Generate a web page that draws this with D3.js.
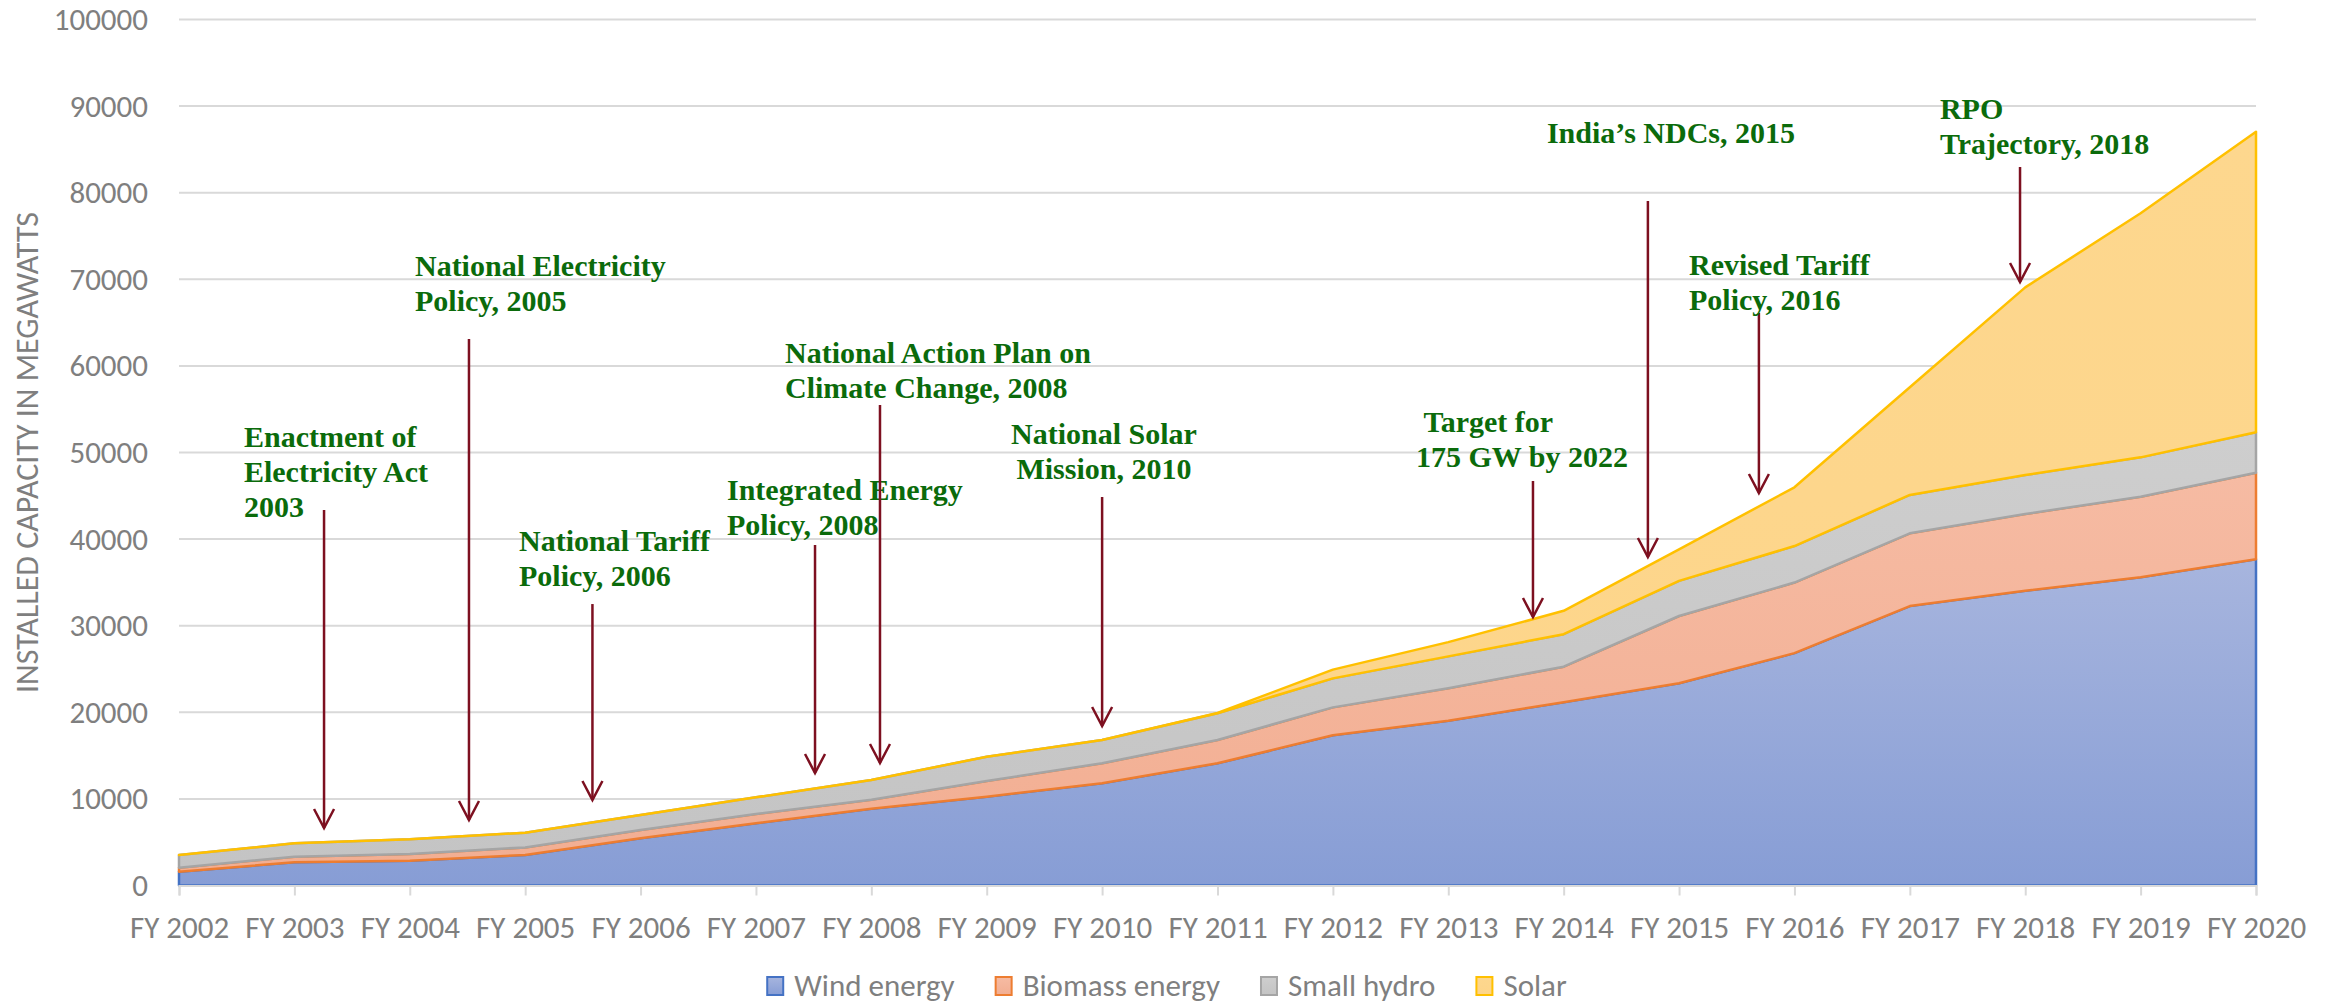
<!DOCTYPE html>
<html>
<head>
<meta charset="utf-8">
<script src="https://cdn.jsdelivr.net/npm/d3@7"></script>
<style>
    html, body { margin: 0; padding: 0; background: #ffffff; }
    #chart svg { display: block; }
</style>
</head>
<body>
<div id="chart"></div>
<script>
const years = ['FY 2002', 'FY 2003', 'FY 2004', 'FY 2005', 'FY 2006', 'FY 2007', 'FY 2008', 'FY 2009', 'FY 2010',
    'FY 2011', 'FY 2012', 'FY 2013', 'FY 2014', 'FY 2015', 'FY 2016', 'FY 2017', 'FY 2018', 'FY 2019', 'FY 2020'];

// installed capacity, MW
const windEnergy = [1600, 2680, 2870, 3520, 5450, 7180, 8850, 10260, 11800, 14110, 17340, 19030, 21170, 23350, 26830, 32270, 34040, 35590, 37670];
const biomassEnergy = [455, 650, 770, 880, 960, 1070, 1050, 1810, 2310, 2690, 3230, 3740, 4100, 7770, 8150, 8400, 8860, 9310, 10000];
const smallHydro = [1465, 1540, 1690, 1700, 1730, 1930, 2280, 2800, 2690, 3080, 3350, 3690, 3750, 4060, 4220, 4430, 4500, 4540, 4660];
const solar = [0, 0, 0, 0, 0, 0, 0, 0, 0, 35, 1010, 1640, 2700, 3640, 6780, 12430, 21670, 28180, 34710];

const seriesKeys = ['wind', 'biomass', 'hydro', 'solar'];
const seriesNames = ['Wind energy', 'Biomass energy', 'Small hydro', 'Solar'];
const yTicks = [0, 10000, 20000, 30000, 40000, 50000, 60000, 70000, 80000, 90000, 100000];
const yTitle = 'INSTALLED CAPACITY IN MEGAWATTS';

// policy milestones: arrow at a (fractional) year index, from tail value down to tip value;
// text anchored at textAt (year index) with first baseline at textValue
const annotations = [
    { lines: ['Enactment of', 'Electricity Act', '2003'], at: 1.257, tail: 43360, tip: 6640, textAt: 0.563, textValue: 50630, anchor: 'start' },
    { lines: ['National Electricity', 'Policy, 2005'], at: 2.513, tail: 63100, tip: 7560, textAt: 2.045, textValue: 70380, anchor: 'start' },
    { lines: ['National Tariff', 'Policy, 2006'], at: 3.583, tail: 32500, tip: 9870, textAt: 2.947, textValue: 38630, anchor: 'start' },
    { lines: ['Integrated Energy', 'Policy, 2008'], at: 5.512, tail: 39320, tip: 12990, textAt: 4.749, textValue: 44520, anchor: 'start' },
    { lines: ['National Action Plan on', 'Climate Change, 2008'], at: 6.075, tail: 55480, tip: 14150, textAt: 5.252, textValue: 60330, anchor: 'start' },
    { lines: ['National Solar', 'Mission, 2010'], at: 8.0, tail: 44860, tip: 18420, textAt: 8.016, textValue: 50980, anchor: 'middle' },
    { lines: ['\u00a0Target for', '175 GW by 2022'], at: 11.734, tail: 46710, tip: 31000, textAt: 10.720, textValue: 52370, anchor: 'start' },
    { lines: ['India\u2019s NDCs, 2015'], at: 12.730, tail: 79040, tip: 37930, textAt: 11.855, textValue: 85740, anchor: 'start' },
    { lines: ['Revised Tariff', 'Policy, 2016'], at: 13.692, tail: 66110, tip: 45320, textAt: 13.086, textValue: 70500, anchor: 'start' },
    { lines: ['RPO', 'Trajectory, 2018'], at: 15.955, tail: 82970, tip: 69690, textAt: 15.261, textValue: 88500, anchor: 'start' }
];

const WIDTH = 2333;
const HEIGHT = 1004;
const MARGIN = { top: 19.5, right: 77, bottom: 118.5, left: 179 };
const AXIS_FONT = "Calibri, Carlito, 'Liberation Sans', Arial, sans-serif";
const AXIS_FONT_SIZE = 31;
const NOTE_FONT = "'Times New Roman', 'Liberation Serif', serif";
const AXIS_COLOR = '#7f7f7f';
const GRID_COLOR = '#d9d9d9';
const NOTE_COLOR = '#0b6b0b';
const ARROW_COLOR = '#7d1020';

const SERIES_STYLE = {
    wind: { stroke: '#4472c4', top: '#a7b5de', bottom: '#879dd5' },
    biomass: { stroke: '#ed7d31', top: '#f6bba3', bottom: '#f2ae92' },
    hydro: { stroke: '#a5a5a5', top: '#cecece', bottom: '#c4c4c4' },
    solar: { stroke: '#ffc000', top: '#fdd78e', bottom: '#fdd58a' }
};

class PolicyAreaChart {

    init() {
        this.initStructure();
        this.initScales();
        this.drawGrid();
        this.drawAreas();
        this.drawAxes();
        this.drawAnnotations();
        this.drawLegend();
    }

    initStructure() {
        this.svg = d3.select('#chart').append('svg')
            .attr('width', WIDTH)
            .attr('height', HEIGHT)
            .attr('viewBox', [0, 0, WIDTH, HEIGHT]);
        this.svg.append('rect').attr('width', WIDTH).attr('height', HEIGHT).attr('fill', '#ffffff');
        this.defineGradients(this.svg.append('defs'));
    }

    defineGradients(defs) {
        seriesKeys.forEach(key => {
            const gradient = defs.append('linearGradient')
                .attr('id', `fill-${key}`)
                .attr('x1', 0).attr('y1', 0).attr('x2', 0).attr('y2', 1);
            gradient.append('stop').attr('offset', '0%').attr('stop-color', SERIES_STYLE[key].top);
            gradient.append('stop').attr('offset', '100%').attr('stop-color', SERIES_STYLE[key].bottom);
        });
    }

    initScales() {
        this.x = d3.scalePoint()
            .domain(years)
            .range([MARGIN.left, WIDTH - MARGIN.right]);
        this.xIndex = d3.scaleLinear()
            .domain([0, years.length - 1])
            .range(this.x.range());
        this.y = d3.scaleLinear()
            .domain([0, 100000])
            .range([HEIGHT - MARGIN.bottom, MARGIN.top]);
    }

    drawGrid() {
        this.svg.append('g').attr('class', 'grid')
            .selectAll('line')
            .data(yTicks.filter(t => t > 0))
            .join('line')
            .attr('x1', MARGIN.left)
            .attr('x2', WIDTH - MARGIN.right)
            .attr('y1', d => this.y(d))
            .attr('y2', d => this.y(d))
            .attr('stroke', GRID_COLOR)
            .attr('stroke-width', 2);
    }

    drawAreas() {
        const table = years.map((year, i) => ({
            year,
            wind: windEnergy[i],
            biomass: biomassEnergy[i],
            hydro: smallHydro[i],
            solar: solar[i]
        }));
        const stacked = d3.stack().keys(seriesKeys)(table);
        const area = d3.area()
            .x(d => this.x(d.data.year))
            .y0(d => this.y(d[0]))
            .y1(d => this.y(d[1]));

        this.svg.append('g').attr('class', 'areas')
            .selectAll('path')
            .data(stacked)
            .join('path')
            .attr('d', area)
            .attr('fill', d => `url(#fill-${d.key})`)
            .attr('stroke', d => SERIES_STYLE[d.key].stroke)
            .attr('stroke-width', 2.5)
            .attr('stroke-linejoin', 'round');
    }

    drawAxes() {
        const yAxis = this.svg.append('g')
            .attr('transform', `translate(${MARGIN.left},0)`)
            .call(d3.axisLeft(this.y).tickValues(yTicks).tickFormat(d3.format('d')).tickSize(0).tickPadding(31));
        yAxis.select('.domain').remove();
        this.styleAxisText(yAxis);

        const xAxis = this.svg.append('g')
            .attr('transform', `translate(0,${this.y(0)})`)
            .call(d3.axisBottom(this.x).tickSize(10).tickPadding(20));
        xAxis.select('.domain').attr('stroke', GRID_COLOR).attr('stroke-width', 2);
        xAxis.selectAll('.tick line').attr('stroke', GRID_COLOR).attr('stroke-width', 2);
        this.styleAxisText(xAxis);

        this.svg.append('text')
            .attr('transform', `translate(27,${(this.y(0) + this.y(100000)) / 2}) rotate(-90)`)
            .attr('text-anchor', 'middle')
            .attr('dominant-baseline', 'central')
            .attr('font-family', AXIS_FONT)
            .attr('font-size', 32)
            .attr('fill', AXIS_COLOR)
            .text(yTitle);
    }

    styleAxisText(axis) {
        axis.selectAll('text')
            .attr('font-family', AXIS_FONT)
            .attr('font-size', AXIS_FONT_SIZE)
            .attr('fill', AXIS_COLOR);
    }

    drawAnnotations() {
        const layer = this.svg.append('g').attr('class', 'annotations');
        const lineHeight = 35;

        annotations.forEach(note => {
            const ax = this.xIndex(note.at);
            const tipY = this.y(note.tip);
            layer.append('line')
                .attr('x1', ax).attr('x2', ax)
                .attr('y1', this.y(note.tail)).attr('y2', tipY)
                .attr('stroke', ARROW_COLOR)
                .attr('stroke-width', 2.5);
            layer.append('path')
                .attr('d', `M${ax - 10},${tipY - 19}L${ax},${tipY}L${ax + 10},${tipY - 19}`)
                .attr('fill', 'none')
                .attr('stroke', ARROW_COLOR)
                .attr('stroke-width', 2.5);

            const text = layer.append('text')
                .attr('x', this.xIndex(note.textAt))
                .attr('y', this.y(note.textValue))
                .attr('text-anchor', note.anchor)
                .attr('font-family', NOTE_FONT)
                .attr('font-weight', 'bold')
                .attr('font-size', 30)
                .attr('fill', NOTE_COLOR);
            note.lines.forEach((line, i) => {
                text.append('tspan')
                    .attr('x', this.xIndex(note.textAt))
                    .attr('dy', i === 0 ? 0 : lineHeight)
                    .text(line);
            });
        });
    }

    drawLegend() {
        const legend = this.svg.append('g').attr('class', 'legend');
        const swatchSize = 18;
        const textGap = 10;
        const itemGap = 40;
        const baseline = 996;
        let cursor = 0;

        seriesKeys.forEach((key, i) => {
            const item = legend.append('g');
            item.append('rect')
                .attr('x', 1).attr('y', baseline - 19)
                .attr('width', swatchSize - 2).attr('height', swatchSize)
                .attr('fill', `url(#fill-${key})`)
                .attr('stroke', SERIES_STYLE[key].stroke)
                .attr('stroke-width', 2);
            const label = item.append('text')
                .attr('x', swatchSize + textGap)
                .attr('y', baseline)
                .attr('font-family', AXIS_FONT)
                .attr('font-size', AXIS_FONT_SIZE)
                .attr('fill', AXIS_COLOR)
                .text(seriesNames[i]);
            const width = swatchSize + textGap + label.node().getComputedTextLength();
            item.attr('transform', `translate(${cursor},0)`);
            cursor += width + itemGap;
        });
        const total = cursor - itemGap;
        legend.attr('transform', `translate(${WIDTH / 2 - total / 2},0)`);
    }
}

new PolicyAreaChart().init();
</script>
</body>
</html>
